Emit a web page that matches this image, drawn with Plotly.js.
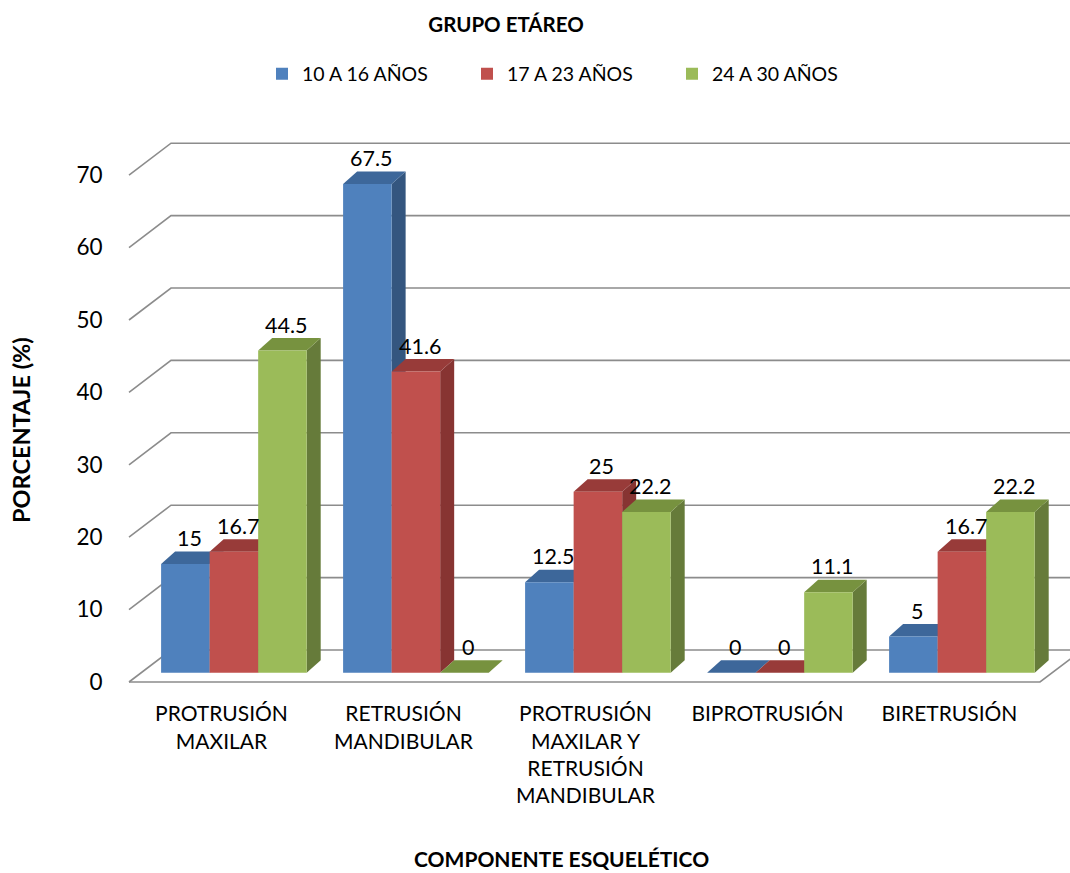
<!DOCTYPE html>
<html>
<head>
<meta charset="utf-8">
<script src="https://cdn.plot.ly/plotly-3.0.1.min.js"></script>
<style>
  html, body { margin: 0; padding: 0; background: #fff; }
  #chart { width: 1070px; height: 873px; }
</style>
</head>
<body>
<div id="chart"></div>
<script>
// Categories (skeletal component) and age-group series, in percent
const categories = [
  'PROTRUSIÓN<br>MAXILAR',
  'RETRUSIÓN<br>MANDIBULAR',
  'PROTRUSIÓN<br>MAXILAR Y<br>RETRUSIÓN<br>MANDIBULAR',
  'BIPROTRUSIÓN',
  'BIRETRUSIÓN'
];
const seriesNames = ['10 A 16 AÑOS', '17 A 23 AÑOS', '24 A 30 AÑOS'];
const age10to16 = [15, 67.5, 12.5, 0, 5];
const age17to23 = [16.7, 41.6, 25, 0, 16.7];
const age24to30 = [44.5, 0, 22.2, 11.1, 22.2];
const yTicks = [0, 10, 20, 30, 40, 50, 60, 70];

const chartTitle = 'GRUPO ETÁREO';
const yTitle = 'PORCENTAJE (%)';
const xTitle = 'COMPONENTE ESQUELÉTICO';

// Styling: front face, top face, side face for each series
const faceColors = [
  { front: '#4F81BD', top: '#3D679A', side: '#34567F' },
  { front: '#C0504D', top: '#983B39', side: '#873432' },
  { front: '#9BBB59', top: '#77923F', side: '#667B3A' }
];

// ---- geometry of the pseudo-3D box (pixels in the 1070x873 canvas) ----
const W = 1070, H = 873;
const PL = 125, PR = 1070, PT = 125, PB = 690;      // plot area
const CAT_PX = 182;          // distance between category centres
const UNIT_PX = 7.24;        // pixels per percentage point
const BAR_CAT0_PX = 233.9;   // centre of the first bar group (front face)
const BAR_BASE_PX = 672.7;   // baseline of the bar front faces
const FLOOR_FRONT_PX = 682;  // front edge of the floor (value 0 on the labels)
const LABEL_SHIFT_PX = 12.4; // category labels sit at the front of the floor
const WALL = { x0: 129, x1: 171, dy: 32, floorRight: 1040, far: 1090 };
const BAR_DEPTH = { dx: 14, dy: 12.5 };
const GROUP_WIDTH = 0.8;

// pixel -> data on the bar axes
const px2x = px => (px - BAR_CAT0_PX) / CAT_PX;
const py2y = py => (BAR_BASE_PX - py) / UNIT_PX;

const series = [age10to16, age17to23, age24to30];
const nSeries = series.length;
const barW = GROUP_WIDTH / nSeries;
const catIdx = categories.map((_, i) => i);

const traces = series.map((vals, s) => ({
  type: 'bar',
  name: seriesNames[s],
  x: catIdx,
  y: vals,
  width: barW,
  offset: -GROUP_WIDTH / 2 + s * barW,
  marker: { color: faceColors[s].front, line: { width: 0 } },
  hoverinfo: 'name+y',
  xaxis: 'x',
  yaxis: 'y'
}));

// empty trace so the front-of-floor label axes get their own subplot
traces.push({
  type: 'scatter', mode: 'markers', x: [], y: [],
  xaxis: 'x2', yaxis: 'y2', showlegend: false, hoverinfo: 'skip'
});

const shapes = [];
const gridColor = '#8C8C8C';

// back wall gridlines with the diagonal on the left wall
yTicks.forEach(v => {
  const yFront = FLOOR_FRONT_PX - v * UNIT_PX;
  const yBack = yFront - WALL.dy;
  shapes.push({
    type: 'path', xref: 'x', yref: 'y', layer: 'below',
    path: `M ${px2x(WALL.x0)},${py2y(yFront)} L ${px2x(WALL.x1)},${py2y(yBack)} L ${px2x(WALL.far)},${py2y(yBack)}`,
    line: { color: gridColor, width: 1.6 }
  });
});
// floor front edge and right edge
shapes.push({
  type: 'path', xref: 'x', yref: 'y', layer: 'below',
  path: `M ${px2x(WALL.x0)},${py2y(FLOOR_FRONT_PX)} L ${px2x(WALL.floorRight)},${py2y(FLOOR_FRONT_PX)} L ${px2x(WALL.floorRight + (WALL.x1 - WALL.x0))},${py2y(FLOOR_FRONT_PX - WALL.dy)}`,
  line: { color: gridColor, width: 1.6 }
});

// top and side faces of every bar, drawn behind the front faces
const dxu = BAR_DEPTH.dx / CAT_PX;
const dyu = BAR_DEPTH.dy / UNIT_PX;
catIdx.forEach(c => {
  series.forEach((vals, s) => {
    const v = vals[c];
    const left = c - GROUP_WIDTH / 2 + s * barW;
    const right = left + barW;
    if (v > 0) {
      shapes.push({
        type: 'path', xref: 'x', yref: 'y', layer: 'below',
        path: `M ${right},0 L ${right},${v} L ${right + dxu},${v + dyu} L ${right + dxu},${dyu} Z`,
        fillcolor: faceColors[s].side, line: { width: 0 }
      });
    }
    shapes.push({
      type: 'path', xref: 'x', yref: 'y', layer: 'below',
      path: `M ${left},${v} L ${right},${v} L ${right + dxu},${v + dyu} L ${left + dxu},${v + dyu} Z`,
      fillcolor: faceColors[s].top, line: { width: 0 }
    });
  });
});

// value labels above each bar
const annotations = [];
catIdx.forEach(c => {
  series.forEach((vals, s) => {
    const v = vals[c];
    annotations.push({
      xref: 'x', yref: 'y',
      x: c - GROUP_WIDTH / 2 + (s + 0.5) * barW,
      y: v,
      text: String(v),
      showarrow: false,
      xshift: 4, yshift: 26,
      xanchor: 'center', yanchor: 'middle',
      font: { family: 'Lato, sans-serif', size: 21.5, color: '#000' }
    });
  });
});

// axis titles
const plotWpx = PR - PL, plotHpx = PB - PT;
annotations.push({
  xref: 'paper', yref: 'paper',
  x: (21 - PL) / plotWpx, y: (PB - 430) / plotHpx,
  text: yTitle, textangle: -90, showarrow: false,
  xanchor: 'center', yanchor: 'middle',
  font: { family: 'Lato, sans-serif', size: 23.5, color: '#000', weight: 'bold' }
});
annotations.push({
  xref: 'paper', yref: 'paper',
  x: (561.5 - PL) / plotWpx, y: (PB - 873) / plotHpx,
  text: xTitle, showarrow: false,
  xanchor: 'center', yanchor: 'bottom',
  font: { family: 'Lato, sans-serif', size: 21, color: '#000', weight: 'bold' }
});

// axes: x/y carry the bars, x2/y2 carry the labels at the front of the floor
const labelCat0 = BAR_CAT0_PX - LABEL_SHIFT_PX;
const layout = {
  width: W, height: H,
  margin: { l: PL, r: W - PR, t: PT, b: H - PB, pad: 0 },
  paper_bgcolor: '#fff',
  plot_bgcolor: 'rgba(0,0,0,0)',
  font: { family: 'Lato, sans-serif', color: '#000' },
  title: {
    text: chartTitle,
    x: 506 / W, xref: 'container', xanchor: 'center',
    y: 1 - 25 / H, yref: 'container', yanchor: 'middle',
    font: { family: 'Lato, sans-serif', size: 20.5, color: '#000', weight: 'bold' }
  },
  showlegend: true,
  legend: {
    orientation: 'h',
    xref: 'container', x: 262 / W, xanchor: 'left',
    yref: 'container', y: 1 - 74 / H, yanchor: 'middle',
    entrywidth: 160,
    font: { family: 'Lato, sans-serif', size: 19.5, color: '#000' },
    traceorder: 'normal'
  },
  barmode: 'overlay',
  xaxis: {
    range: [px2x(PL), px2x(PR)],
    showticklabels: false, showgrid: false, zeroline: false, showline: false,
    fixedrange: true
  },
  yaxis: {
    range: [py2y(PB), py2y(PT)],
    showticklabels: false, showgrid: false, zeroline: false, showline: false,
    fixedrange: true
  },
  xaxis2: {
    overlaying: 'x', anchor: 'y2', side: 'bottom',
    range: [(PL - labelCat0) / CAT_PX, (PR - labelCat0) / CAT_PX],
    tickmode: 'array', tickvals: catIdx, ticktext: categories,
    ticks: 'outside', ticklen: 5, tickcolor: 'rgba(0,0,0,0)',
    showgrid: false, zeroline: false, showline: false,
    tickfont: { family: 'Lato, sans-serif', size: 21, color: '#000' },
    fixedrange: true
  },
  yaxis2: {
    overlaying: 'y', anchor: 'x2', side: 'left',
    range: [(FLOOR_FRONT_PX - PB) / UNIT_PX, (FLOOR_FRONT_PX - PT) / UNIT_PX],
    tickmode: 'array', tickvals: yTicks, ticktext: yTicks.map(String),
    ticks: 'outside', ticklen: 17, tickcolor: 'rgba(0,0,0,0)',
    showgrid: false, zeroline: false, showline: false,
    tickfont: { family: 'Lato, sans-serif', size: 22.5, color: '#000' },
    fixedrange: true
  },
  shapes: shapes,
  annotations: annotations
};

Plotly.newPlot('chart', traces, layout, { displayModeBar: false, staticPlot: true });
</script>
</body>
</html>
